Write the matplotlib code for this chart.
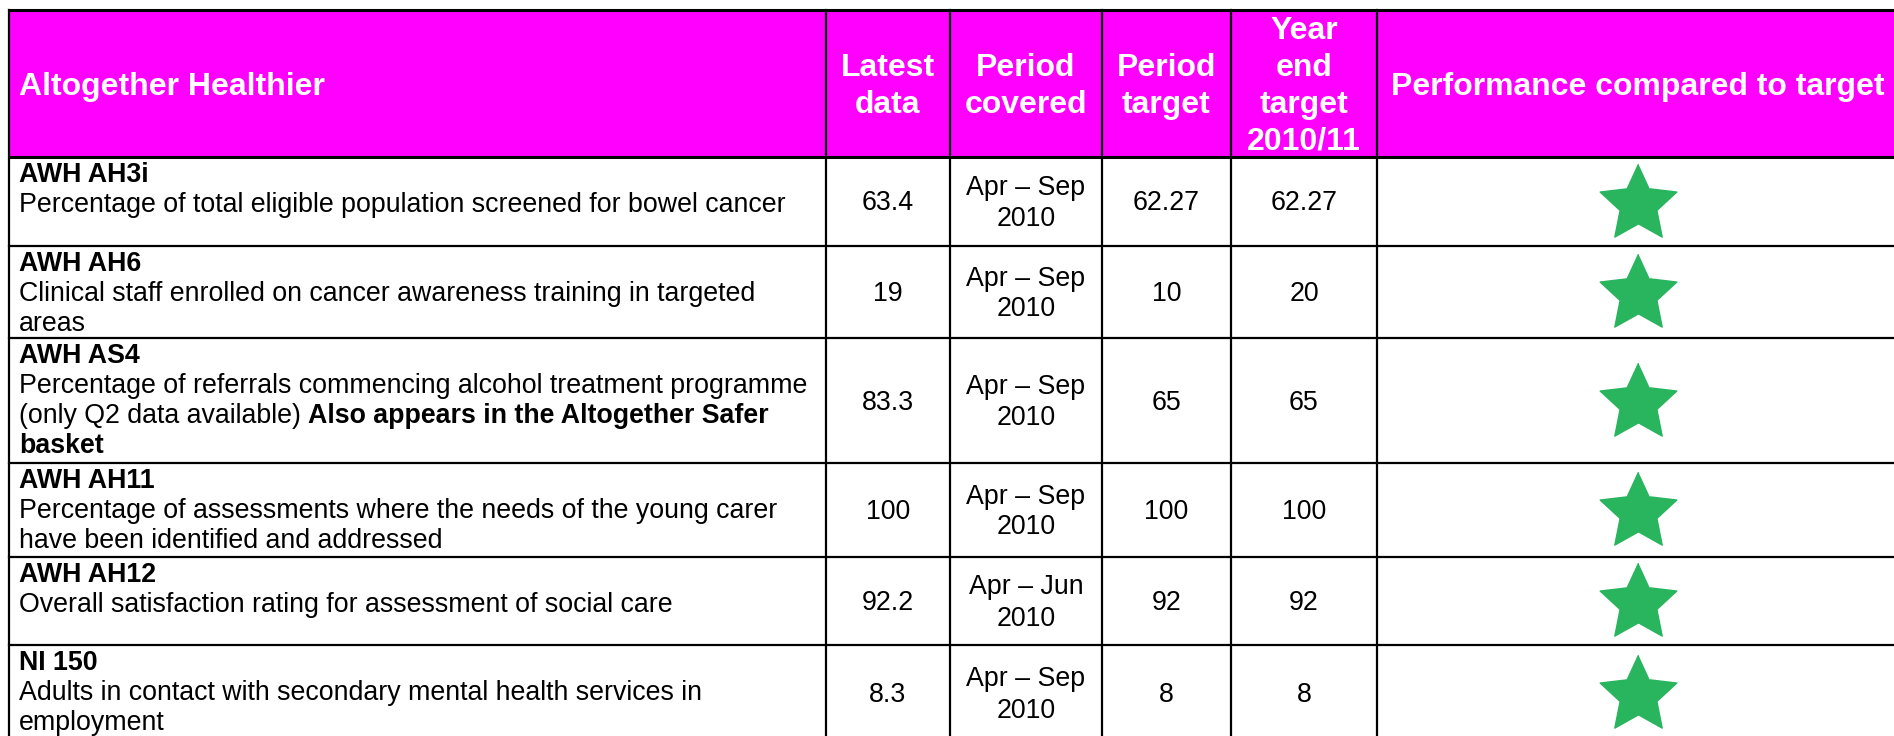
import numpy as np
import matplotlib
matplotlib.use('Agg')
import matplotlib.pyplot as plt

plt.rcParams['font.family'] = ['Liberation Sans', 'DejaVu Sans']

# ---------------- data ----------------
title = "Altogether Healthier"
col_headers = ["Latest\ndata", "Period\ncovered", "Period\ntarget",
               "Year\nend\ntarget\n2010/11", "Performance compared to target"]

codes = ["AWH AH3i", "AWH AH6", "AWH AS4", "AWH AH11", "AWH AH12", "NI 150"]
# ** marks bold text (may span lines)
descriptions = [
    ["Percentage of total eligible population screened for bowel cancer"],
    ["Clinical staff enrolled on cancer awareness training in targeted", "areas"],
    ["Percentage of referrals commencing alcohol treatment programme",
     "(only Q2 data available) **Also appears in the Altogether Safer",
     "basket**"],
    ["Percentage of assessments where the needs of the young carer",
     "have been identified and addressed"],
    ["Overall satisfaction rating for assessment of social care"],
    ["Adults in contact with secondary mental health services in", "employment"],
]
latest = ["63.4", "19", "83.3", "100", "92.2", "8.3"]
period_covered = ["Apr – Sep\n2010", "Apr – Sep\n2010", "Apr – Sep\n2010",
                  "Apr – Sep\n2010", "Apr – Jun\n2010", "Apr – Sep\n2010"]
period_target = ["62.27", "10", "65", "100", "92", "8"]
year_end_target = ["62.27", "20", "65", "100", "92", "8"]
on_target = [True, True, True, True, True, True]

# ---------------- layout (pixels) ----------------
W, H = 1894, 736
col_x = [9, 826, 950, 1102, 1231, 1377, 1899]
row_y = [10, 157, 246, 338, 463, 557, 645, 741]
MAGENTA = '#ff00ff'
GREEN = '#29b45e'
HEAD_FS, BODY_FS = 23, 19.3
lw = 1.6

fig = plt.figure(figsize=(W / 100, H / 100), dpi=100)
ax = fig.add_axes([0, 0, 1, 1])
ax.set_xlim(0, W)
ax.set_ylim(H, 0)
ax.axis('off')

# header background
ax.fill_between([col_x[0], col_x[-1]], row_y[0], row_y[1], color=MAGENTA, lw=0)


def centered_lines(text, xc, yc, pitch, cap, **kw):
    lines = text.split('\n')
    n = len(lines)
    b0 = yc - ((n - 1) * pitch - cap) / 2
    for i, s in enumerate(lines):
        ax.text(xc, b0 + i * pitch, s, ha='center', va='baseline', **kw)


# header texts
hc = (row_y[0] + row_y[1]) / 2
ax.text(col_x[0] + 10, hc + 11, title, ha='left', va='baseline',
        fontsize=HEAD_FS, fontweight='bold', color='white')
for j, h in enumerate(col_headers):
    xc = (col_x[j + 1] + col_x[j + 2]) / 2
    centered_lines(h, xc, hc, 37, 22, fontsize=HEAD_FS, fontweight='bold', color='white')

renderer = fig.canvas.get_renderer()
inv = ax.transData.inverted()


def text_width(t):
    bb = t.get_window_extent(renderer=renderer)
    p0 = inv.transform((bb.x0, bb.y0))
    p1 = inv.transform((bb.x1, bb.y0))
    return p1[0] - p0[0]


space_t = ax.text(0, -100, "a a", fontsize=BODY_FS)
nospace_t = ax.text(0, -100, "aa", fontsize=BODY_FS)
space_w = text_width(space_t) - text_width(nospace_t)
space_t.remove()
nospace_t.remove()

# star marker (fat five-point star)
ang = np.pi / 2 + np.arange(10) * np.pi / 5
rad = np.where(np.arange(10) % 2 == 0, 1.0, 0.48)
star = list(zip(rad * np.cos(ang), rad * np.sin(ang)))

# body rows
for i in range(len(codes)):
    top, bot = row_y[i + 1], row_y[i + 2]
    yc = (top + bot) / 2
    x0 = col_x[0] + 10
    y = top + 25
    ax.text(x0, y, codes[i], ha='left', va='baseline', fontsize=BODY_FS, fontweight='bold')
    bold = False
    for line in descriptions[i]:
        y += 30
        x = x0
        parts = line.split('**')
        for k, part in enumerate(parts):
            if k > 0:
                bold = not bold
            seg = part.strip(' ')
            if k > 0 and part.startswith(' '):
                x += space_w
            if seg:
                t = ax.text(x, y, seg, ha='left', va='baseline', fontsize=BODY_FS,
                            fontweight='bold' if bold else 'normal')
                x += text_width(t)
            if part.endswith(' ') and k < len(parts) - 1:
                x += space_w
    cells = [latest[i], period_covered[i], period_target[i], year_end_target[i]]
    for j, c in enumerate(cells):
        xc = (col_x[j + 1] + col_x[j + 2]) / 2
        centered_lines(c, xc, yc, 31, 18, fontsize=BODY_FS)
    if on_target[i]:
        ax.plot((col_x[5] + col_x[6]) / 2, yc + 2, marker=star, markersize=58,
                color=GREEN, mec=GREEN, ls='none')

# grid lines
for yy in row_y[:-1]:
    ax.plot([col_x[0], col_x[-1]], [yy, yy], color='black',
            lw=lw + (0.6 if yy in (row_y[0], row_y[1]) else 0))
for xx in col_x:
    ax.plot([xx, xx], [row_y[0], row_y[-1]], color='black', lw=lw)

fig.savefig('out.png', dpi=100)
